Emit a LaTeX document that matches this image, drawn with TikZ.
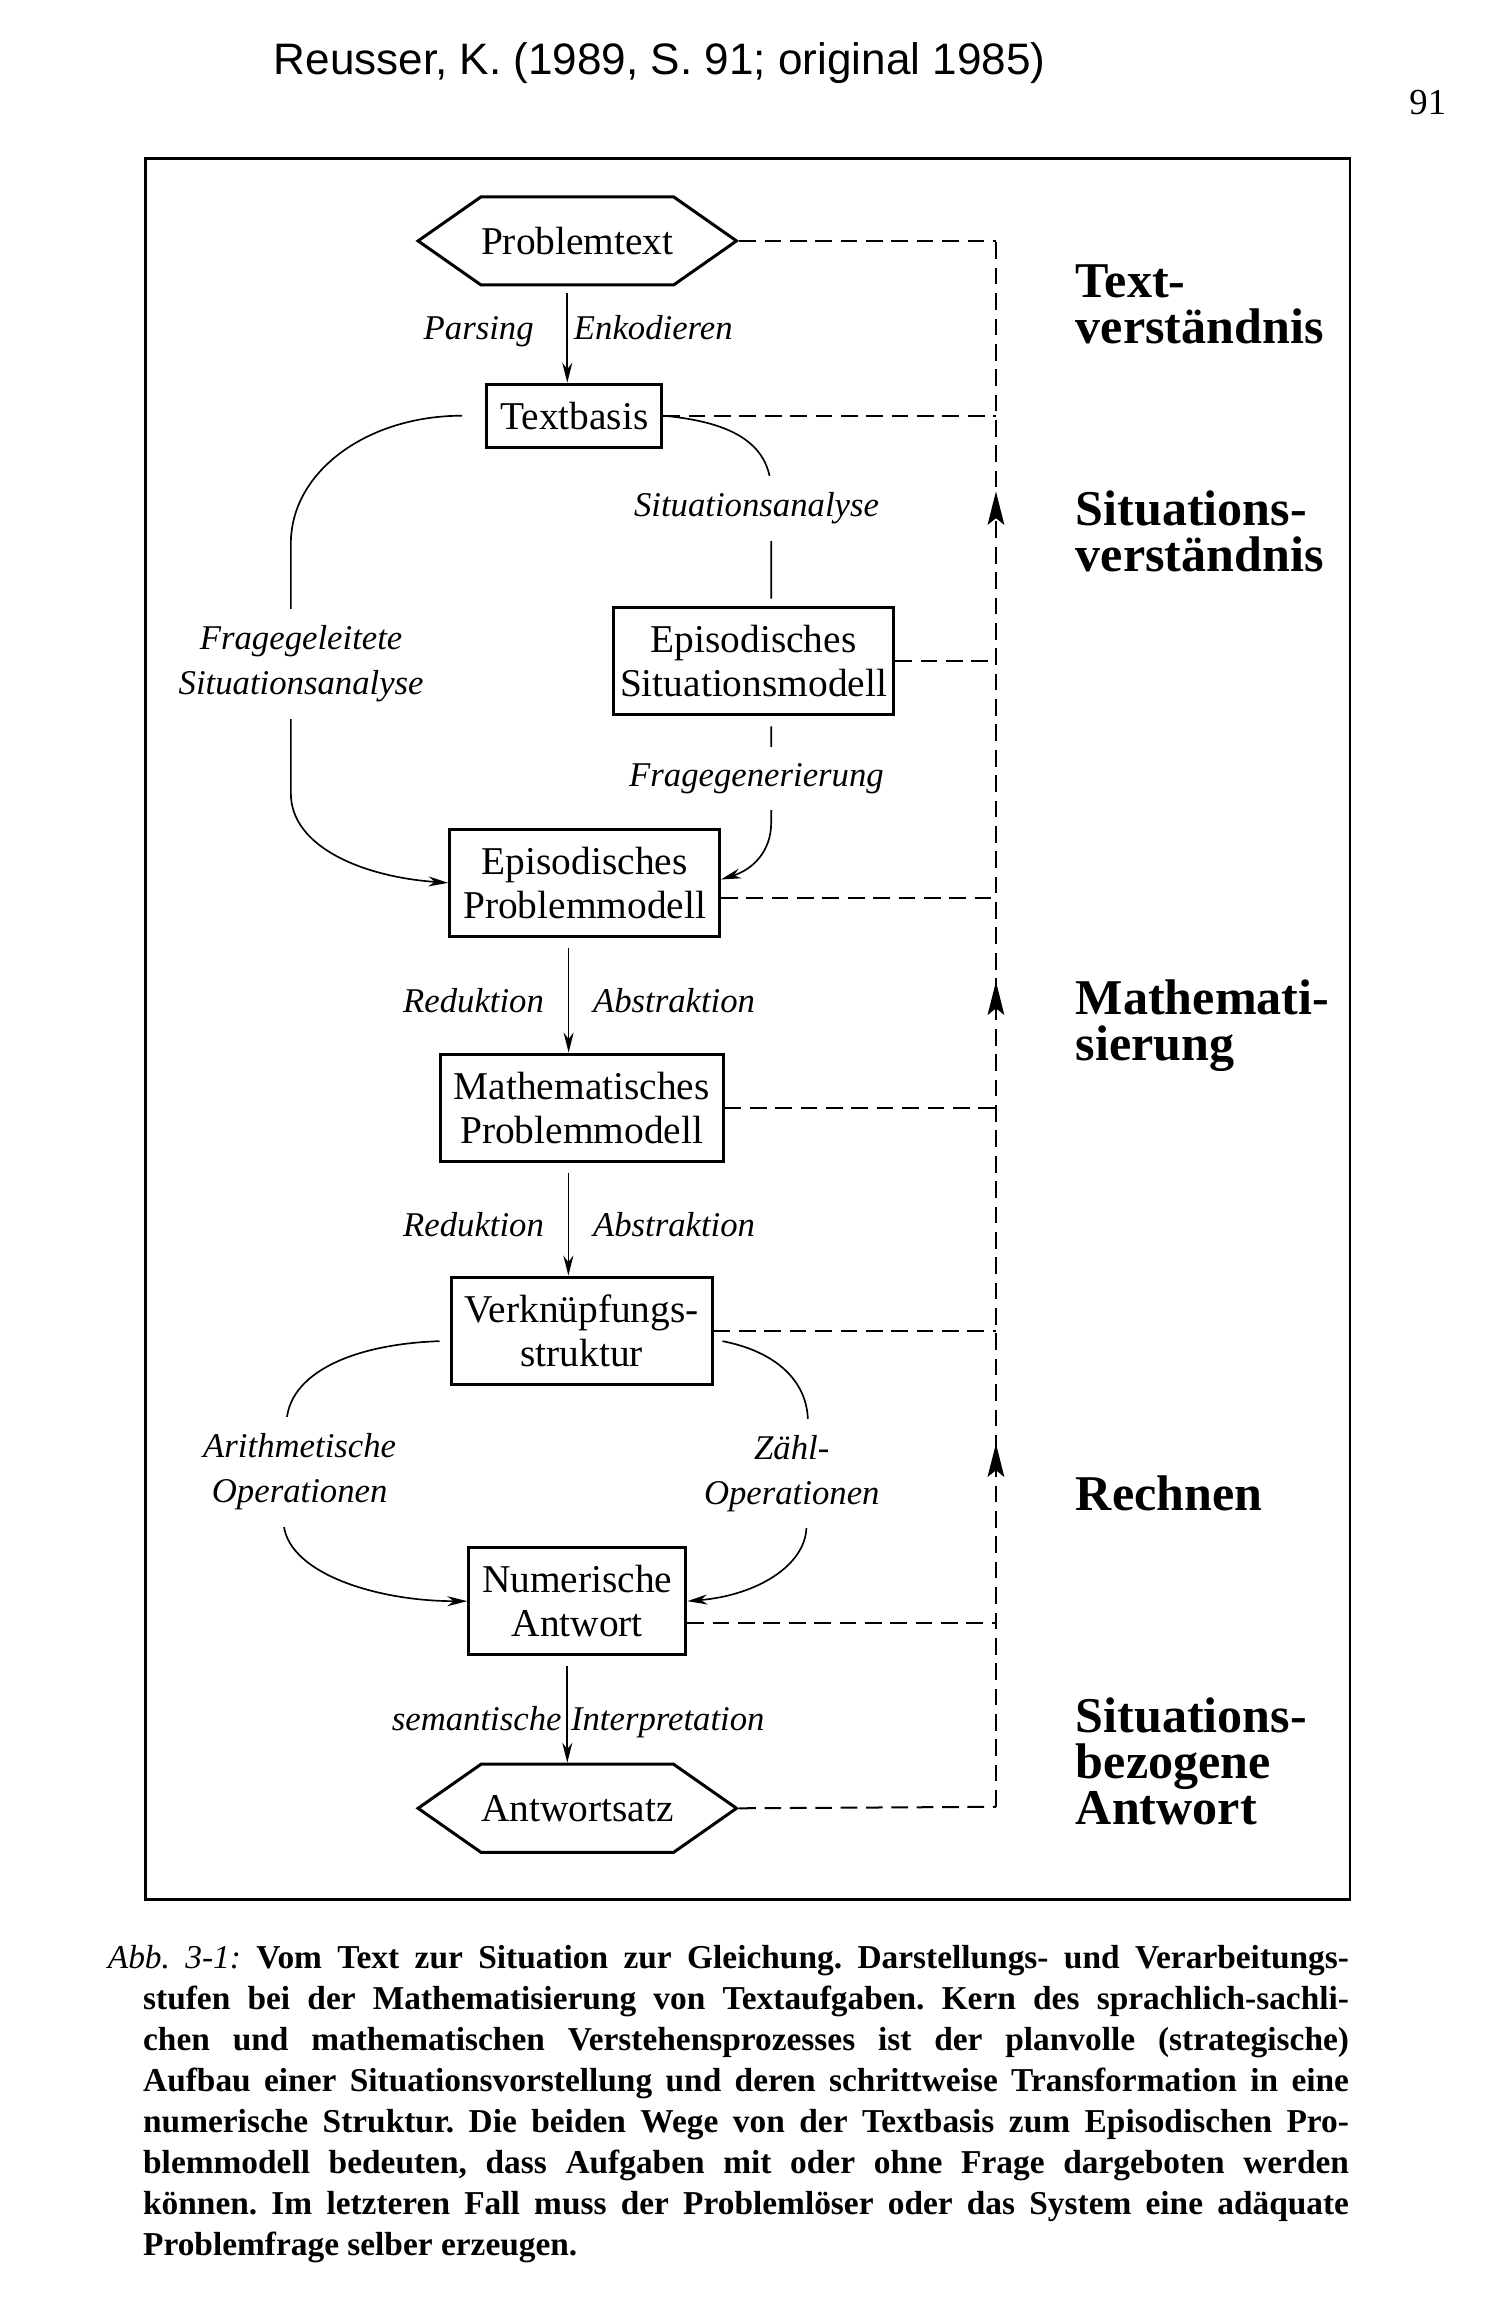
\documentclass[tikz,border=0pt]{standalone}
\usepackage{fontspec}
\setmainfont{Liberation Serif}
\newfontfamily\headfont{Liberation Sans}
\usetikzlibrary{shapes.symbols, arrows.meta, calc, decorations.markings}

\tikzset{
  box/.style={draw, line width=0.9pt, align=center, inner xsep=4pt, inner ysep=5.3pt,
    font=\fontsize{11.8}{13.2}\selectfont},
  hex/.style={draw, line width=0.9pt, signal, signal to=west and east, signal pointer angle=70,
    minimum width=93.7pt, minimum height=26.4pt, inner sep=0pt, font=\fontsize{11.8}{13.2}\selectfont},
  lbl/.style={font=\fontsize{10.4}{13.4}\selectfont\itshape, align=center, inner sep=1pt},
  gap/.style={lbl, fill=white, inner ysep=5pt},
  phase/.style={font=\fontsize{15}{13.8}\selectfont\bfseries, align=left, anchor=base west, inner sep=0pt},
  flow/.style={-{Stealth[length=6pt,width=3pt]}, line width=0.5pt},
  line/.style={line width=0.5pt},
  fb/.style={dash pattern=on 5pt off 2.6pt, line width=0.6pt},
  up/.style={postaction={decorate}, decoration={markings,
    mark=at position 0.232 with {\arrow{Stealth[length=10pt,width=5pt,inset=2pt]}},
    mark=at position 0.527 with {\arrow{Stealth[length=10pt,width=5pt,inset=2pt]}},
    mark=at position 0.840 with {\arrow{Stealth[length=10pt,width=5pt,inset=2pt]}}}}
}

\begin{document}
\begin{tikzpicture}[x=0.44pt, y=-0.44pt]
  \useasboundingbox (0,0) rectangle (1024,1578);

  \node[font=\headfont\fontsize{13.2}{15}\selectfont] (head) at (449,43) {Reusser, K. (1989, S. 91; original 1985)};
  \node[font=\fontsize{11}{13}\selectfont] (page) at (972,70) {91};

  \draw[line width=0.8pt] (99,108) rectangle (919,1293);

  % Stufen
  \node[hex] (pt) at (393,164) {Problemtext};
  \node[box] (tb) at (391,283) {Textbasis};
  \node[box, inner xsep=2pt] (esm) at (513,450) {Episodisches\\Situationsmodell};
  \node[box] (epm) at (398,601) {Episodisches\\Problemmodell};
  \node[box] (mpm) at (396,754) {Mathematisches\\Problemmodell};
  \node[box] (vks) at (396,906) {Verknüpfungs-\\struktur};
  \node[box] (na) at (393,1090) {Numerische\\Antwort};
  \node[hex] (as) at (393,1231) {Antwortsatz};

  % gerade Uebergaenge
  \draw[flow, shorten <=2pt] ([xshift=-3pt]pt.south) -- ([xshift=-3pt]pt.south |- tb.north);
  \draw[flow, shorten <=3pt] ([xshift=-4.8pt]epm.south) -- ([xshift=-4.8pt]epm.south |- mpm.north);
  \draw[flow, shorten <=3pt] ([xshift=-4pt]mpm.south) -- ([xshift=-4pt]mpm.south |- vks.north);
  \draw[flow, shorten <=3pt] ([xshift=-3pt]na.south) -- ([xshift=-3pt]na.south |- as.north);

  \node[lbl, anchor=base east] (parse) at (366,231) {Parsing};
  \node[lbl, anchor=base west] (enk) at (388,231) {Enkodieren};
  \node[lbl, anchor=base east] (red1) at (373,689) {Reduktion};
  \node[lbl, anchor=base west] (abs1) at (401,689) {Abstraktion};
  \node[lbl, anchor=base east] (red2) at (373,842) {Reduktion};
  \node[lbl, anchor=base west] (abs2) at (401,842) {Abstraktion};
  \node[lbl, anchor=base east] (sem) at (385,1178) {semantische};
  \node[lbl, anchor=base west] (intp) at (386,1178) {Interpretation};

  % die beiden Wege zum Problemmodell
  \draw[flow, shorten <=7pt] (tb.west) .. controls (250,283) and (198,321) .. (198,370)
    -- (198,540) .. controls (198,577) and (248,597) .. (epm.west);
  \node[gap] (fsa) at (205,452) {Fragegeleitete\\Situationsanalyse};

  \draw[line] (tb.east) .. controls (495,287) and (525,300) .. (525,335)
    -- ($(esm.north)+(12,-5)$);
  \node[gap] (sa) at (515,346) {Situationsanalyse};

  \draw[flow] ($(esm.south)+(12,7)$) -- (525,560) .. controls (525,580) and (512,592) .. ([yshift=1pt]epm.east);
  \node[gap] (fg) at (515,530) {Fragegenerierung};

  % Rechnen
  \draw[flow] ($(vks.west)+(-7,7)$) .. controls (240,915) and (195,935) .. (195,970)
    -- (193,1035) .. controls (193,1070) and (255,1090) .. (na.west);
  \node[gap] (arith) at (204,1002) {Arithmetische\\Operationen};

  \draw[flow] ($(vks.east)+(6,7)$) .. controls (528,920) and (550,940) .. (550,968)
    -- (549,1040) .. controls (548,1066) and (515,1086) .. (na.east);
  \node[gap] (zaehl) at (539,1003) {Zähl-\\Operationen};

  % Rueckbezug
  \coordinate (top) at (678,164);
  \coordinate (bot) at (678,1230);
  \draw[fb, up] (bot) -- (top);
  \draw[fb] (pt.east) -- (top);
  \draw[fb] (tb.east) -- (tb.east -| top);
  \draw[fb] (esm.east) -- (esm.east -| top);
  \draw[fb] ([yshift=-4.5pt]epm.east) -- ([yshift=-4.5pt]epm.east -| top);
  \draw[fb] (mpm.east) -- (mpm.east -| top);
  \draw[fb] (vks.east) -- (vks.east -| top);
  \draw[fb] ([yshift=-6.5pt]na.east) -- ([yshift=-6.5pt]na.east -| top);
  \draw[fb] (as.east) -- (bot);

  % Phasen (base = letzte Zeile)
  \node[phase] (p1) at (732,234) {Text-\\verständnis};
  \node[phase] (p2) at (732,389) {Situations-\\verständnis};
  \node[phase] (p3) at (732,722) {Mathemati-\\sierung};
  \node[phase] (p4) at (732,1028) {Rechnen};
  \node[phase] (p5) at (732,1242) {Situations-\\bezogene\\Antwort};

  \node[anchor=base west, text width=361.2pt, align=justify, inner sep=0pt,
    font=\fontsize{10}{12.3}\selectfont\bfseries\frenchspacing] (cap) at (97,1340)
    {\hspace*{-10.56pt}{\mdseries\itshape Abb. 3-1:} Vom Text zur Situation zur Gleichung. Darstellungs- und Verarbeitungs-\linebreak
    stufen bei der Mathematisierung von Textaufgaben. Kern des sprachlich-sachli-\linebreak
    chen und mathematischen Verstehensprozesses ist der planvolle (strategische)\linebreak
    Aufbau einer Situationsvorstellung und deren schrittweise Transformation in eine\linebreak
    numerische Struktur. Die beiden Wege von der Textbasis zum Episodischen Pro-\linebreak
    blemmodell bedeuten, dass Aufgaben mit oder ohne Frage dargeboten werden\linebreak
    können. Im letzteren Fall muss der Problemlöser oder das System eine adäquate\linebreak
    Problemfrage selber erzeugen.};
\end{tikzpicture}
\end{document}
